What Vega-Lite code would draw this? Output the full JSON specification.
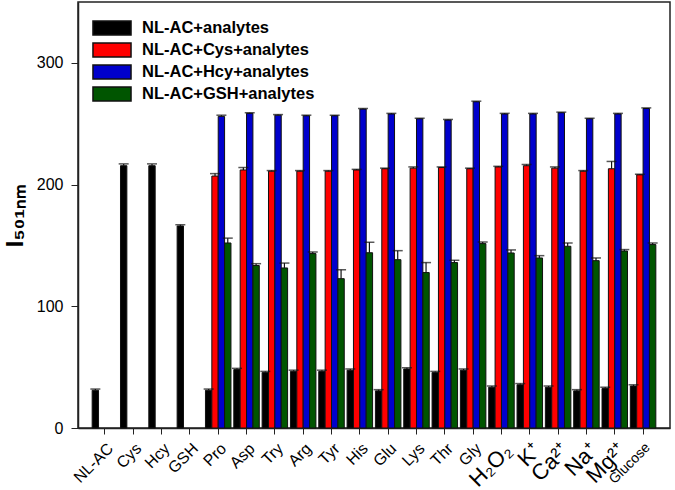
{
  "$schema": "https://vega.github.io/schema/vega-lite/v6.json",
  "width": 592,
  "height": 426,
  "autosize": {"type": "none"},
  "padding": {"left": 78, "top": 2, "right": 5, "bottom": 62},
  "config": {
    "font": "Liberation Sans",
    "view": {"stroke": "#222222", "strokeWidth": 1.5},
    "axis": {"grid": false, "domainColor": "#222222", "tickColor": "#222222", "labelColor": "#000000", "titleColor": "#000000"}
  },
  "data": {
    "values": [
      {"c": "NL-AC", "s": "NL-AC+analytes", "v": 31, "hi": 32},
      {"c": "Cys", "s": "NL-AC+analytes", "v": 215.5, "hi": 217},
      {"c": "Hcy", "s": "NL-AC+analytes", "v": 215.5, "hi": 217},
      {"c": "GSH", "s": "NL-AC+analytes", "v": 166, "hi": 167},

      {"c": "Pro", "s": "NL-AC+analytes", "v": 31, "hi": 32},
      {"c": "Pro", "s": "NL-AC+Cys+analytes", "v": 207, "hi": 209},
      {"c": "Pro", "s": "NL-AC+Hcy+analytes", "v": 256, "hi": 257},
      {"c": "Pro", "s": "NL-AC+GSH+analytes", "v": 152, "hi": 156},

      {"c": "Asp", "s": "NL-AC+analytes", "v": 48, "hi": 49},
      {"c": "Asp", "s": "NL-AC+Cys+analytes", "v": 212, "hi": 214},
      {"c": "Asp", "s": "NL-AC+Hcy+analytes", "v": 258.5, "hi": 259},
      {"c": "Asp", "s": "NL-AC+GSH+analytes", "v": 133.5, "hi": 135},

      {"c": "Try", "s": "NL-AC+analytes", "v": 45.5, "hi": 46.5},
      {"c": "Try", "s": "NL-AC+Cys+analytes", "v": 211, "hi": 211.5},
      {"c": "Try", "s": "NL-AC+Hcy+analytes", "v": 257, "hi": 257.5},
      {"c": "Try", "s": "NL-AC+GSH+analytes", "v": 131.5, "hi": 135.5},

      {"c": "Arg", "s": "NL-AC+analytes", "v": 46.5, "hi": 47.5},
      {"c": "Arg", "s": "NL-AC+Cys+analytes", "v": 211, "hi": 211.5},
      {"c": "Arg", "s": "NL-AC+Hcy+analytes", "v": 256.5, "hi": 257},
      {"c": "Arg", "s": "NL-AC+GSH+analytes", "v": 143.3, "hi": 144.6},

      {"c": "Tyr", "s": "NL-AC+analytes", "v": 46.5, "hi": 47.5},
      {"c": "Tyr", "s": "NL-AC+Cys+analytes", "v": 211, "hi": 211.5},
      {"c": "Tyr", "s": "NL-AC+Hcy+analytes", "v": 256.5, "hi": 257},
      {"c": "Tyr", "s": "NL-AC+GSH+analytes", "v": 122.7, "hi": 130},

      {"c": "His", "s": "NL-AC+analytes", "v": 47.5, "hi": 48.5},
      {"c": "His", "s": "NL-AC+Cys+analytes", "v": 212, "hi": 212.5},
      {"c": "His", "s": "NL-AC+Hcy+analytes", "v": 262, "hi": 262.5},
      {"c": "His", "s": "NL-AC+GSH+analytes", "v": 144, "hi": 152.6},

      {"c": "Glu", "s": "NL-AC+analytes", "v": 30.5, "hi": 31.5},
      {"c": "Glu", "s": "NL-AC+Cys+analytes", "v": 213, "hi": 213.5},
      {"c": "Glu", "s": "NL-AC+Hcy+analytes", "v": 258, "hi": 258.5},
      {"c": "Glu", "s": "NL-AC+GSH+analytes", "v": 138.3, "hi": 145.7},

      {"c": "Lys", "s": "NL-AC+analytes", "v": 48.5, "hi": 49.5},
      {"c": "Lys", "s": "NL-AC+Cys+analytes", "v": 213.5, "hi": 214.5},
      {"c": "Lys", "s": "NL-AC+Hcy+analytes", "v": 254, "hi": 254.5},
      {"c": "Lys", "s": "NL-AC+GSH+analytes", "v": 127.7, "hi": 135.9},

      {"c": "Thr", "s": "NL-AC+analytes", "v": 45.5, "hi": 46.5},
      {"c": "Thr", "s": "NL-AC+Cys+analytes", "v": 214, "hi": 214.5},
      {"c": "Thr", "s": "NL-AC+Hcy+analytes", "v": 253, "hi": 253.5},
      {"c": "Thr", "s": "NL-AC+GSH+analytes", "v": 135.9, "hi": 137.8},

      {"c": "Gly", "s": "NL-AC+analytes", "v": 47.5, "hi": 48.5},
      {"c": "Gly", "s": "NL-AC+Cys+analytes", "v": 213, "hi": 213.5},
      {"c": "Gly", "s": "NL-AC+Hcy+analytes", "v": 268, "hi": 268.5},
      {"c": "Gly", "s": "NL-AC+GSH+analytes", "v": 151.5, "hi": 152.8},

      {"c": "H₂O₂", "s": "NL-AC+analytes", "v": 33.5, "hi": 34.5},
      {"c": "H₂O₂", "s": "NL-AC+Cys+analytes", "v": 214.5, "hi": 215},
      {"c": "H₂O₂", "s": "NL-AC+Hcy+analytes", "v": 258, "hi": 258.5},
      {"c": "H₂O₂", "s": "NL-AC+GSH+analytes", "v": 143.8, "hi": 146.3},

      {"c": "K⁺", "s": "NL-AC+analytes", "v": 35.5, "hi": 36.5},
      {"c": "K⁺", "s": "NL-AC+Cys+analytes", "v": 215.5, "hi": 216.5},
      {"c": "K⁺", "s": "NL-AC+Hcy+analytes", "v": 258, "hi": 258.5},
      {"c": "K⁺", "s": "NL-AC+GSH+analytes", "v": 139.7, "hi": 141.6},

      {"c": "Ca²⁺", "s": "NL-AC+analytes", "v": 33.5, "hi": 34.5},
      {"c": "Ca²⁺", "s": "NL-AC+Cys+analytes", "v": 213.5, "hi": 214.5},
      {"c": "Ca²⁺", "s": "NL-AC+Hcy+analytes", "v": 259, "hi": 259.5},
      {"c": "Ca²⁺", "s": "NL-AC+GSH+analytes", "v": 149.3, "hi": 152},

      {"c": "Na⁺", "s": "NL-AC+analytes", "v": 30.5, "hi": 31.5},
      {"c": "Na⁺", "s": "NL-AC+Cys+analytes", "v": 211, "hi": 211.5},
      {"c": "Na⁺", "s": "NL-AC+Hcy+analytes", "v": 254, "hi": 254.5},
      {"c": "Na⁺", "s": "NL-AC+GSH+analytes", "v": 137.5, "hi": 139.7},

      {"c": "Mg²⁺", "s": "NL-AC+analytes", "v": 32.5, "hi": 33.5},
      {"c": "Mg²⁺", "s": "NL-AC+Cys+analytes", "v": 213, "hi": 219},
      {"c": "Mg²⁺", "s": "NL-AC+Hcy+analytes", "v": 258, "hi": 258.5},
      {"c": "Mg²⁺", "s": "NL-AC+GSH+analytes", "v": 145.4, "hi": 146.6},

      {"c": "Glucose", "s": "NL-AC+analytes", "v": 34.5, "hi": 35.5},
      {"c": "Glucose", "s": "NL-AC+Cys+analytes", "v": 208, "hi": 208.5},
      {"c": "Glucose", "s": "NL-AC+Hcy+analytes", "v": 262.5, "hi": 263},
      {"c": "Glucose", "s": "NL-AC+GSH+analytes", "v": 150.7, "hi": 152}
    ]
  },
  "encoding": {
    "x": {
      "field": "c",
      "type": "nominal",
      "sort": ["NL-AC", "Cys", "Hcy", "GSH", "Pro", "Asp", "Try", "Arg", "Tyr", "His", "Glu", "Lys", "Thr", "Gly", "H₂O₂", "K⁺", "Ca²⁺", "Na⁺", "Mg²⁺", "Glucose"],
      "scale": {"paddingInner": 0.1, "paddingOuter": 0.5},
      "axis": {
        "title": null,
        "labelAngle": -45,
        "labelFontSize": {
          "condition": [
            {"test": "indexof(['H₂O₂','K⁺','Ca²⁺','Na⁺','Mg²⁺'], datum.value) >= 0", "value": 22},
            {"test": "datum.value === 'Glucose'", "value": 14}
          ],
          "value": 16
        },
        "tickSize": 6,
        "labelPadding": 6,
        "domainWidth": 1.5
      }
    },
    "xOffset": {
      "field": "s",
      "type": "nominal",
      "sort": ["NL-AC+analytes", "NL-AC+Cys+analytes", "NL-AC+Hcy+analytes", "NL-AC+GSH+analytes"]
    }
  },
  "layer": [
    {
      "mark": {"type": "bar", "stroke": "#111111", "strokeWidth": 1},
      "encoding": {
        "y": {
          "field": "v",
          "type": "quantitative",
          "scale": {"domain": [0, 350], "nice": false},
          "axis": {
            "values": [0, 100, 200, 300],
            "title": "I₅₀₁ₙₘ",
            "titleFontSize": 24,
            "titleFontWeight": "bold",
            "titlePadding": 9,
            "labelFontSize": 16,
            "tickSize": 7,
            "labelPadding": 8,
            "domainWidth": 1.5
          }
        },
        "color": {
          "field": "s",
          "type": "nominal",
          "sort": ["NL-AC+analytes", "NL-AC+Cys+analytes", "NL-AC+Hcy+analytes", "NL-AC+GSH+analytes"],
          "scale": {
            "domain": ["NL-AC+analytes", "NL-AC+Cys+analytes", "NL-AC+Hcy+analytes", "NL-AC+GSH+analytes"],
            "range": ["#000000", "#FF0000", "#0000CC", "#005500"]
          },
          "legend": {
            "title": null,
            "orient": "none",
            "legendX": 22,
            "legendY": 14,
            "padding": 0,
            "symbolType": "M-1.73,-0.636H1.73V0.636H-1.73Z",
            "symbolSize": 484,
            "symbolStrokeColor": "#111111",
            "symbolStrokeWidth": 1.5,
            "symbolOpacity": 1,
            "labelFontSize": 16.5,
            "labelFontWeight": "bold",
            "labelColor": "#000000",
            "labelOffset": 18,
            "labelLimit": 0,
            "rowPadding": 0
          }
        }
      }
    },
    {
      "mark": {"type": "rule", "color": "#111111", "strokeWidth": 1.2},
      "encoding": {
        "y": {"field": "v", "type": "quantitative"},
        "y2": {"field": "hi"}
      }
    },
    {
      "mark": {"type": "tick", "color": "#111111", "thickness": 1.5, "size": 10},
      "encoding": {
        "y": {"field": "hi", "type": "quantitative"}
      }
    }
  ]
}
